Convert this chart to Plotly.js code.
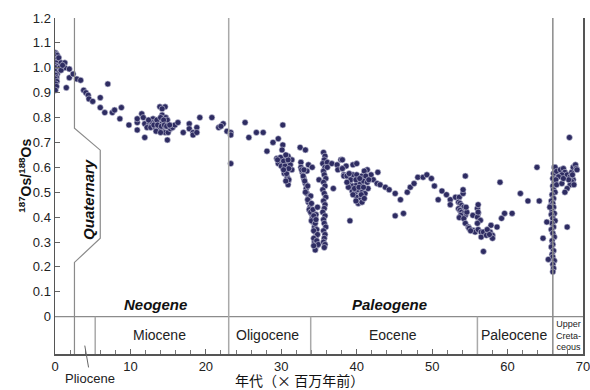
<!DOCTYPE html>
<html><head><meta charset="utf-8">
<script src="https://cdn.plot.ly/plotly-3.0.1.min.js"></script>
<style>html,body{margin:0;padding:0;background:#fff}#chart{width:590px;height:390px}</style>
</head><body><div id="chart"></div>
<script>
// Geologic boundaries (Ma)
const boundaries = {quaternary: 2.58, pliocene: 5.33, neogene: 23.03, oligocene: 33.9, eocene: 56.0, paleogene: 66.0};
const yTicks = [0,0.1,0.2,0.3,0.4,0.5,0.6,0.7,0.8,0.9,1.0,1.1,1.2];
const yTickText = ["0","0.1","0.2","0.3","0.4","0.5","0.6","0.7","0.8","0.9","1.0","1.1","1.2"];
const xTicks = [0,10,20,30,40,50,60,70];

// Data: age (Ma) and 187Os/188Os
const quatAge = [0.05,0.15,0.3,0.1,0.25,0.05,0.35,0.15,0.05,0.3,0.1,0.2,0.05,0.3,0.1,0.2,0.05,0.25,0.1,0.2,0.05,0.5,0.8,1.3,0.66,1.3,1.9,0.8,1.5,1.9,2.4,1.0];
const quatOs  = [1.06,1.055,1.05,1.04,1.035,1.03,1.025,1.02,1.01,1.005,1.0,0.99,0.985,0.975,0.97,0.96,0.955,0.945,0.935,0.925,0.91,1.04,1.02,1.02,1.0,1.0,0.995,0.99,0.92,0.96,0.975,1.01];

const neoAge = [2.9,3.4,3.8,4.1,4.4,4.5,5.0,6.0,7.0,6.0,6.6,7.6,7.9,8.8,8.6,9.8,10.9,10.9,11.5,11.7,11.9,10.9,11.9,12.5,12.7,12.2,
  13.9,14.6,14.2,14.2,14.7,14.9,13.0,12.9,13.3,13.7,14.2,12.7,13.3,13.7,14.3,13.9,14.6,15.0,15.3,15.6,15.9,16.3,14.9,17.0,17.8,17.8,18.3,18.3,18.8,18.8,19.2,20.8,21.7,22.3,22.8,
  13.5,14.0,14.4,13.1,13.6,14.1,14.5,14.8,12.4,13.4,14.0,15.2,22.0];
const neoOs  = [0.955,0.95,0.91,0.90,0.89,0.875,0.865,0.88,0.935,0.84,0.82,0.82,0.83,0.84,0.795,0.77,0.78,0.795,0.815,0.80,0.775,0.75,0.72,0.775,0.78,0.76,
  0.843,0.843,0.835,0.81,0.80,0.79,0.795,0.78,0.78,0.78,0.775,0.76,0.76,0.76,0.76,0.75,0.74,0.74,0.755,0.76,0.77,0.78,0.71,0.74,0.775,0.755,0.74,0.73,0.76,0.74,0.80,0.80,0.76,0.775,0.745,
  0.79,0.80,0.79,0.77,0.77,0.765,0.77,0.765,0.79,0.745,0.74,0.77,0.765];

const oligoAge = [23.3,23.3,23.3,25.2,25.7,26.7,27.6,28.1,28.9,29.6,30.2,
  30.2,30.1,29.4,29.8,30.1,30.5,30.8,29.6,30.2,30.6,30.4,30.8,30.9,30.9,31.4,31.4,30.9,31.2,29.9,30.3,30.0,30.5,30.7,31.0,30.3,29.5,30.9,30.6,31.0,30.6,
  32.5,33.2,32.6,32.6,33.6,32.8,33.0,33.2,33.3,33.4,33.6,32.7,32.9,33.1,33.5,33.2,33.4,33.0];
const oligoOs  = [0.74,0.73,0.615,0.78,0.72,0.74,0.74,0.665,0.70,0.715,0.77,
  0.69,0.67,0.635,0.625,0.615,0.635,0.62,0.615,0.60,0.59,0.575,0.56,0.54,0.53,0.63,0.59,0.645,0.61,0.64,0.625,0.605,0.605,0.575,0.595,0.59,0.63,0.63,0.65,0.55,0.545,
  0.68,0.67,0.62,0.60,0.61,0.58,0.555,0.535,0.515,0.495,0.475,0.59,0.565,0.545,0.525,0.50,0.585,0.59];

const eoAge = [34.1,33.6,33.8,33.7,34.0,34.1,34.2,34.4,34.5,34.6,34.4,34.7,34.5,
  33.9,33.5,34.0,33.9,34.2,34.6,34.8,34.3,34.0,34.5,34.7,34.3,34.8,34.3,34.7,34.9,34.3,35.0,36.9,34.6,
  35.6,35.8,35.7,35.5,35.8,35.6,35.7,35.9,35.6,35.8,35.5,35.7,35.9,35.6,35.8,35.7,35.5,35.8,35.6,35.7,35.9,35.6,35.8,35.7,35.6,35.8,35.7,
  36.1,36.7,37.4,37.5,38.1,37.9,38.3,36.1,
  38.1,38.6,38.1,39.5,40.0,38.3,38.7,39.5,40.0,40.7,41.4,41.0,41.9,42.8,39.1,39.5,40.0,40.5,40.9,41.4,39.4,39.8,40.2,40.7,41.1,40.0,40.5,40.2,40.7,41.5,39.5,39.1,
  42.2,42.7,43.1,43.8,44.3,45.1,45.8,46.7,47.1,47.6,48.1,48.8,49.3,49.9,50.3,45.1,46.2,50.8,51.3,51.9,52.4,52.4,53.1,53.6,54.1,54.4,54.1,
  38.9,39.7,40.3,40.9,39.2,39.9,40.4,41.2,39.0,40.6,39.9,41.0,38.7,41.6];
const eoOs  = [0.60,0.46,0.44,0.43,0.415,0.395,0.38,0.36,0.34,0.32,0.30,0.285,0.268,
  0.485,0.47,0.455,0.42,0.43,0.41,0.44,0.405,0.385,0.375,0.35,0.345,0.33,0.315,0.305,0.29,0.285,0.55,0.515,0.39,
  0.66,0.645,0.63,0.615,0.60,0.585,0.57,0.555,0.54,0.525,0.51,0.495,0.48,0.465,0.45,0.435,0.42,0.405,0.39,0.375,0.36,0.345,0.33,0.315,0.30,0.29,0.278,
  0.62,0.615,0.61,0.59,0.595,0.63,0.57,0.60,
  0.63,0.605,0.595,0.61,0.615,0.565,0.565,0.57,0.57,0.565,0.59,0.585,0.57,0.58,0.535,0.525,0.53,0.535,0.545,0.54,0.505,0.50,0.51,0.50,0.495,0.48,0.47,0.455,0.46,0.515,0.49,0.385,
  0.55,0.535,0.53,0.52,0.51,0.495,0.47,0.50,0.52,0.535,0.56,0.56,0.57,0.555,0.525,0.405,0.415,0.47,0.505,0.49,0.47,0.45,0.48,0.48,0.495,0.565,0.51,
  0.52,0.515,0.52,0.52,0.55,0.55,0.555,0.565,0.575,0.49,0.465,0.475,0.54,0.55];

const paleoAge = [53.5,53.7,53.9,54.2,53.5,53.7,53.9,54.2,54.4,53.8,53.6,54.2,54.6,54.5,
  54.4,54.8,55.4,55.7,56.1,56.5,56.5,56.8,57.2,56.8,55.4,56.0,56.1,56.0,56.4,56.0,57.7,57.8,58.0,58.0,58.6,59.2,59.6,60.6,59.0,61.7,62.7,64.2,56.1,56.1,54.9,55.1,57.3,57.6];
const paleoOs  = [0.46,0.455,0.447,0.44,0.434,0.427,0.42,0.414,0.407,0.407,0.398,0.394,0.42,0.44,
  0.375,0.36,0.347,0.34,0.35,0.34,0.32,0.34,0.327,0.262,0.407,0.435,0.415,0.40,0.387,0.375,0.34,0.367,0.327,0.315,0.36,0.395,0.415,0.415,0.54,0.495,0.465,0.465,0.42,0.45,0.355,0.345,0.35,0.33];

const cretAge = [66.2,66.1,66.0,66.2,66.0,66.1,66.3,65.9,66.1,65.8,66.0,65.7,66.1,65.9,66.2,65.8,66.0,66.3,65.9,66.1,65.8,66.0,66.2,65.9,66.0,65.8,66.1,65.9,66.0,66.2,66.0,66.1,66.0,
  65.6,65.4,64.7,65.2,63.9,67.9,
  66.3,66.5,67.0,67.4,67.6,67.2,66.75,67.9,68.3,68.5,68.7,69.0,69.1,68.7,68.5,68.3,67.9,67.6,66.4,66.5,67.2,68.8,68.1,67.4,68.2,69.2,68.6];
const cretOs  = [0.60,0.575,0.555,0.54,0.525,0.51,0.50,0.49,0.475,0.465,0.455,0.445,0.44,0.425,0.415,0.41,0.395,0.385,0.375,0.36,0.35,0.335,0.32,0.305,0.29,0.28,0.265,0.25,0.24,0.225,0.21,0.195,0.18,
  0.44,0.23,0.315,0.38,0.60,0.36,
  0.60,0.584,0.59,0.595,0.58,0.57,0.562,0.57,0.562,0.58,0.60,0.61,0.595,0.55,0.543,0.53,0.515,0.50,0.55,0.53,0.535,0.53,0.55,0.555,0.72,0.59,0.57];

const epochLabels = ["Miocene","Oligocene","Eocene","Paleocene"];
const epochCenters = [13.9, 28.2, 44.8, 60.85];

const allAge = [].concat(quatAge, neoAge, oligoAge, eoAge, paleoAge, cretAge);
const allOs  = [].concat(quatOs, neoOs, oligoOs, eoOs, paleoOs, cretOs);

const yBottom = -0.15, yTop = 1.2;
const gridGrey = '#a9a9a9';
const b = boundaries;

const shapes = [
  {type:'line', xref:'x', yref:'y', x0:0, x1:70, y0:0, y1:0, line:{color:'#8c8c8c', width:1.2}},
  {type:'line', xref:'x', yref:'y', x0:b.neogene, x1:b.neogene, y0:yBottom, y1:yTop, line:{color:gridGrey, width:1.5}},
  {type:'line', xref:'x', yref:'y', x0:b.paleogene, x1:b.paleogene, y0:yBottom, y1:yTop, line:{color:'#8a8a8a', width:1.5}},
  {type:'line', xref:'x', yref:'y', x0:b.pliocene, x1:b.pliocene, y0:yBottom, y1:0, line:{color:gridGrey, width:1.5}},
  {type:'line', xref:'x', yref:'y', x0:b.oligocene, x1:b.oligocene, y0:yBottom, y1:0, line:{color:gridGrey, width:1.5}},
  {type:'line', xref:'x', yref:'y', x0:b.eocene, x1:b.eocene, y0:yBottom, y1:0, line:{color:gridGrey, width:1.5}},
  {type:'path', xref:'x', yref:'y',
   path:`M ${b.quaternary} ${yTop} L ${b.quaternary} 0.757 L 6.0 0.669 L 6.0 0.315 L ${b.quaternary} 0.218 L ${b.quaternary} ${yBottom}`,
   line:{color:'#8a8a8a', width:1.2}},
  {type:'line', xref:'x', yref:'paper', x0:3.95, x1:4.45, y0:0.025, y1:-0.04, line:{color:'#666', width:1}}
];

const font = 'Liberation Sans, Arial, sans-serif';
const annotations = [
  {x:4.4, y:0.47, xref:'x', yref:'y', text:'<b><i>Quaternary</i></b>', textangle:-90, showarrow:false, font:{family:font, size:15, color:'#111'}},
  {x:13.3, y:0.05, xref:'x', yref:'y', text:'<b><i>Neogene</i></b>', showarrow:false, font:{family:font, size:15, color:'#111'}},
  {x:44.4, y:0.05, xref:'x', yref:'y', text:'<b><i>Paleogene</i></b>', showarrow:false, font:{family:font, size:15, color:'#111'}},
  {x:68.1, y:-0.074, xref:'x', yref:'y', text:'Upper<br>Creta-<br>ceous', showarrow:false, font:{family:font, size:9, color:'#222'}},
  {x:4.7, y:-0.072, xref:'x', yref:'paper', yanchor:'middle', text:'Pliocene', showarrow:false, font:{family:font, size:13, color:'#222'}},
  {x:-0.078, y:0.53, xref:'paper', yref:'paper', text:'<b><sup>187</sup>Os/<sup>188</sup>Os</b>', textangle:-90, showarrow:false, font:{family:font, size:14, color:'#111'}},
  {x:0.464, y:-0.078, xref:'paper', yref:'paper', yanchor:'middle', text:'年代（× 百万年前）', showarrow:false, font:{family:'Noto Sans CJK JP, sans-serif', size:14, color:'#111'}}
];
epochLabels.forEach((t,i)=>annotations.push({x:epochCenters[i], y:-0.074, xref:'x', yref:'y', text:t, showarrow:false, font:{family:font, size:14, color:'#222'}}));

const trace = {
  x: allAge, y: allOs, type:'scatter', mode:'markers',
  marker:{size:6, color:'#2e2c62', line:{color:'#c9c9dc', width:0.6}},
  hoverinfo:'x+y'
};

const layout = {
  width:590, height:390,
  margin:{l:55, r:7, t:18, b:36},
  paper_bgcolor:'#fff', plot_bgcolor:'#fff',
  showlegend:false,
  font:{family:font, size:13, color:'#222'},
  xaxis:{range:[0,70], tickvals:xTicks, ticks:'inside', ticklen:5, tickcolor:'#666', ticklabeloverflow:'allow',
         minor:{dtick:2, ticks:'inside', ticklen:4, tickcolor:'#777', showgrid:false},
         showgrid:false, zeroline:false, showline:true, linecolor:'#555', linewidth:1.5,
         tickfont:{family:font, size:13, color:'#222'}},
  yaxis:{range:[yBottom, yTop], tickvals:yTicks, ticktext:yTickText, ticks:'inside', ticklen:5, tickcolor:'#666',
         showgrid:false, zeroline:false, showline:true, linecolor:'#555', linewidth:1.5, mirror:true,
         tickfont:{family:font, size:13, color:'#222'}},
  shapes: shapes,
  annotations: annotations
};

Plotly.newPlot('chart', [trace], layout, {displayModeBar:false, staticPlot:true});
</script>
</body></html>
